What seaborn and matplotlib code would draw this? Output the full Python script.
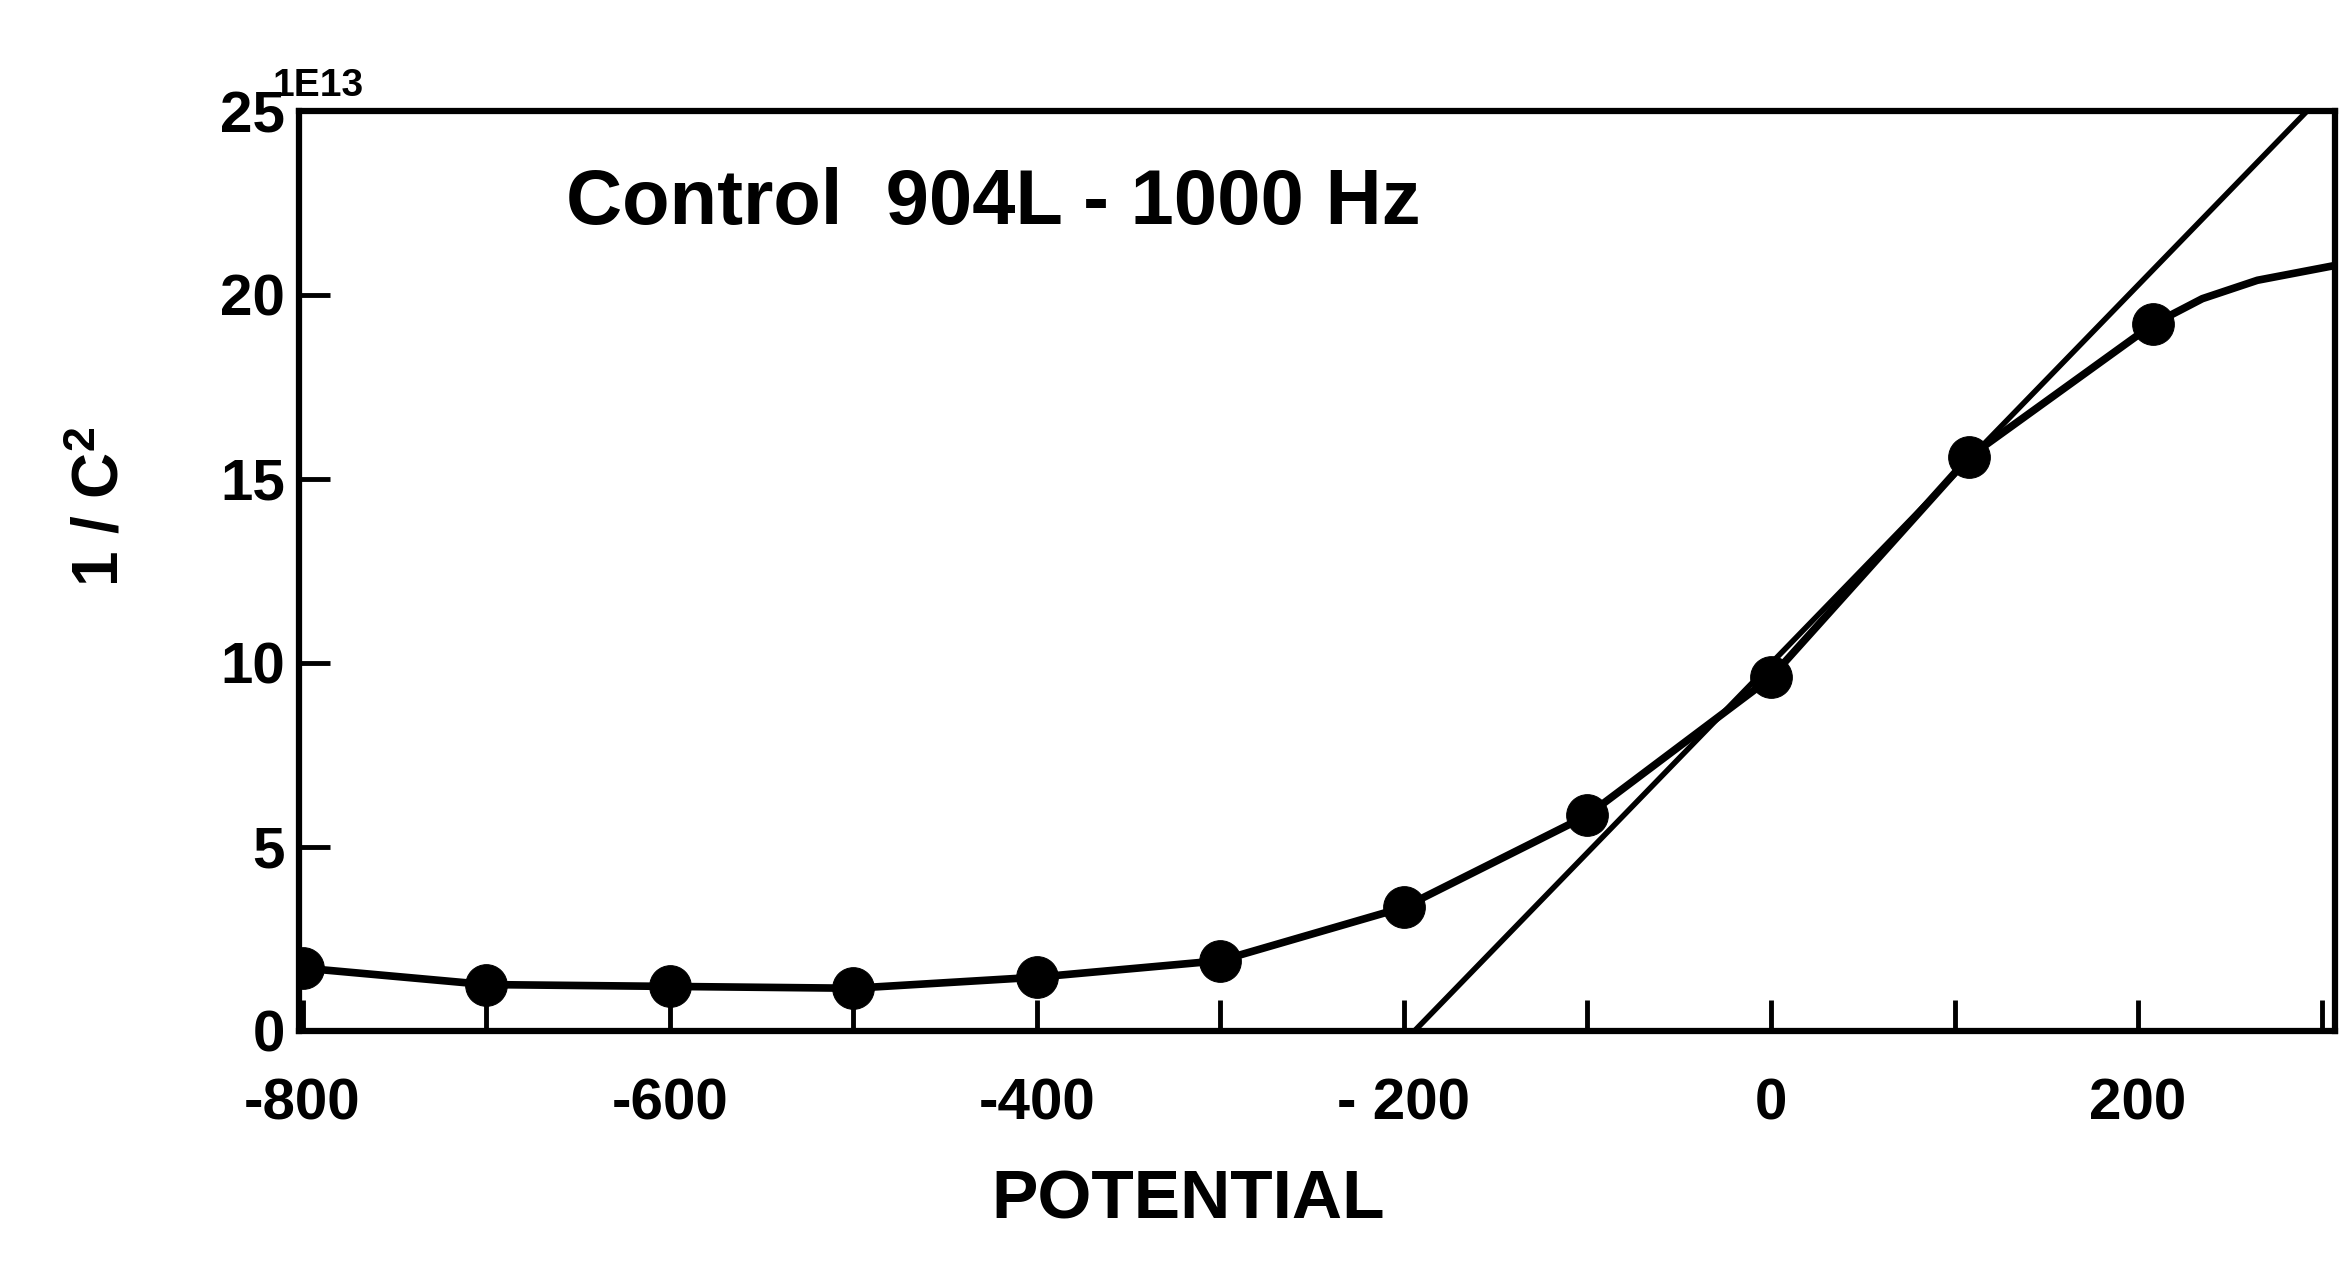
import matplotlib
matplotlib.use("Agg")
import matplotlib.pyplot as plt
import seaborn as sns
import numpy as np
import pandas as pd

# ---- data ----
potential = [-800, -700, -600, -500, -400, -300, -200, -100, 0, 108, 208]
inv_c2 = [1.7, 1.25, 1.2, 1.15, 1.45, 1.9, 3.35, 5.85, 9.6, 15.6, 19.2]
# continuation of the drawn curve beyond the last measured point
tail_potential = [208, 235, 265, 307]
tail_inv_c2 = [19.2, 19.9, 20.4, 20.8]
# Mott-Schottky straight-line fit (end points)
fit_potential = [-194, 292]
fit_inv_c2 = [0, 25]

x_major = [-800, -600, -400, -200, 0, 200]
x_major_labels = ["-800", "-600", "-400", "- 200", "0", "200"]
x_minor = [-700, -500, -300, -100, 100, 300]
y_ticks = [0, 5, 10, 15, 20, 25]
y_tick_labels = ["0", "5", "10", "15", "20", "25"]

title_text = "Control  904L - 1000 Hz"
x_label = "POTENTIAL"
y_label = r"1 / C$^{2}$"
scale_text = "1E13"

sns.set_theme(style="ticks")
plt.rcParams["font.family"] = ["Liberation Sans", "DejaVu Sans"]
plt.rcParams["font.weight"] = "bold"
plt.rcParams["text.color"] = "black"
plt.rcParams["axes.labelcolor"] = "black"
plt.rcParams["xtick.color"] = "black"
plt.rcParams["ytick.color"] = "black"
plt.rcParams["mathtext.fontset"] = "custom"
plt.rcParams["mathtext.rm"] = "Liberation Sans:bold"
plt.rcParams["mathtext.it"] = "Liberation Sans:bold"
plt.rcParams["mathtext.bf"] = "Liberation Sans:bold"

fig = plt.figure(figsize=(23.42, 12.77), dpi=100)
ax = fig.add_axes([0.1276, 0.193, 0.8692, 0.72])

df = pd.DataFrame({"potential": potential, "inv_c2": inv_c2})
df_tail = pd.DataFrame({"potential": tail_potential, "inv_c2": tail_inv_c2})
df_fit = pd.DataFrame({"potential": fit_potential, "inv_c2": fit_inv_c2})

sns.lineplot(data=df_fit, x="potential", y="inv_c2", ax=ax, color="black",
             lw=4, estimator=None, sort=False)
sns.lineplot(data=df_tail, x="potential", y="inv_c2", ax=ax, color="black",
             lw=5.5, estimator=None, sort=False)
sns.lineplot(data=df, x="potential", y="inv_c2", ax=ax, color="black",
             lw=5.5, marker="o", markersize=30, markeredgecolor="black",
             markerfacecolor="black", estimator=None, sort=False)

ax.set_xlim(-802, 307)
ax.set_ylim(0, 25)

ax.set_xticks(x_major)
ax.set_xticklabels(x_major_labels)
ax.set_xticks(x_minor, minor=True)
ax.set_yticks(y_ticks)
ax.set_yticklabels(y_tick_labels)

ax.tick_params(axis="both", which="both", direction="in", length=22,
               width=3.5, color="black")
ax.tick_params(axis="x", which="major", labelsize=42, pad=34,
               labelcolor="black")
ax.tick_params(axis="y", which="major", labelsize=42, pad=10,
               labelcolor="black")
ax.tick_params(top=False, right=False)
for lab in ax.get_xticklabels() + ax.get_yticklabels():
    lab.set_fontweight("bold")

for s in ax.spines.values():
    s.set_visible(True)
    s.set_linewidth(4.5)
    s.set_color("black")

ax.set_xlabel(x_label, fontsize=50, fontweight="bold", color="black")
ax.xaxis.set_label_coords(0.437, -0.15)
ax.xaxis.label.set_va("top")
ax.set_ylabel(y_label, fontsize=46, fontweight="bold", color="black")
ax.yaxis.set_label_coords(-0.097, 0.57)
ax.yaxis.label.set_va("center")

ax.text(0.131, 0.90, title_text, transform=ax.transAxes, fontsize=56,
        fontweight="bold", ha="left", va="center", color="black")
ax.text(-0.013, 1.008, scale_text, transform=ax.transAxes, fontsize=28,
        fontweight="bold", ha="left", va="bottom", color="black")

fig.savefig("out.png", dpi=100, facecolor="white")
